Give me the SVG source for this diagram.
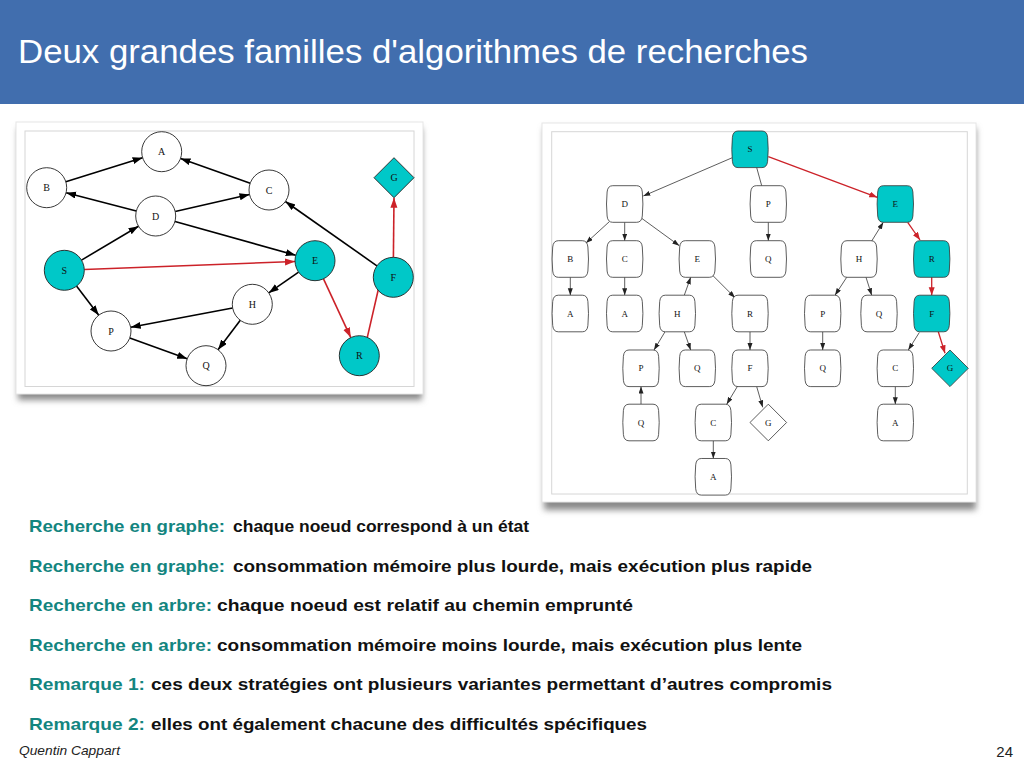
<svg xmlns="http://www.w3.org/2000/svg" width="1024" height="768" viewBox="0 0 1024 768">
  <style>
    .title { font-family: "Liberation Sans", "DejaVu Sans", sans-serif; font-size: 34px; fill: #ffffff; }
    .gnode { fill: #ffffff; stroke: #222222; stroke-width: 0.9; }
    .gnode.hit, .tnode.hit { fill: #00c8c8; }
    .tnode { fill: #ffffff; stroke: #333333; stroke-width: 0.8; }
    .glabel { font-family: "Liberation Serif", "DejaVu Serif", serif; font-size: 10px; fill: #111111; text-anchor: middle; dominant-baseline: central; }
    .tlabel { font-family: "Liberation Serif", "DejaVu Serif", serif; font-size: 9px; fill: #111111; text-anchor: middle; dominant-baseline: central; }
    .gedge { stroke: #000000; stroke-width: 1.6; fill: none; }
    .gedge.red { stroke: #cc2229; }
    .tedge { stroke: #333333; stroke-width: 0.8; fill: none; }
    .tedge.red { stroke: #cc2229; stroke-width: 1.3; }
    .key { font-family: "Liberation Sans", "DejaVu Sans", sans-serif; font-size: 17px; font-weight: bold; fill: #13857f; }
    .body { font-family: "Liberation Sans", "DejaVu Sans", sans-serif; font-size: 17px; font-weight: bold; fill: #111111; }
    .foot { font-family: "Liberation Sans", "DejaVu Sans", sans-serif; fill: #222222; }
  </style>
  <defs>
    <marker id="ah" markerUnits="userSpaceOnUse" markerWidth="11" markerHeight="8" refX="10" refY="3.5" orient="auto">
      <path d="M0,0 L10,3.5 L0,7 Z" fill="#000000"/>
    </marker>
    <marker id="ahRed" markerUnits="userSpaceOnUse" markerWidth="11" markerHeight="8" refX="10" refY="3.5" orient="auto">
      <path d="M0,0 L10,3.5 L0,7 Z" fill="#cc2229"/>
    </marker>
    <marker id="th" markerUnits="userSpaceOnUse" markerWidth="8" markerHeight="6" refX="7" refY="2.5" orient="auto">
      <path d="M0,0 L7,2.5 L0,5 Z" fill="#222222"/>
    </marker>
    <marker id="thRed" markerUnits="userSpaceOnUse" markerWidth="9" markerHeight="7" refX="8" refY="3" orient="auto">
      <path d="M0,0 L8,3 L0,6 Z" fill="#cc2229"/>
    </marker>
    <!-- barrel-shaped rounded box used by the tree nodes -->
    <path id="box" d="M-12,-18.3 H12 Q17,-18.3 17.6,-12 Q18.8,0 17.6,12 Q17,18.3 12,18.3 H-12 Q-17,18.3 -17.6,12 Q-18.8,0 -17.6,-12 Q-17,-18.3 -12,-18.3 Z"/>
    <path id="diam" d="M0,-18.3 L18.3,0 L0,18.3 L-18.3,0 Z"/>
    <path id="gdiam" d="M0,-20 L20,0 L0,20 L-20,0 Z"/>
    <filter id="shadow" x="-10%" y="-10%" width="120%" height="130%">
      <feGaussianBlur stdDeviation="3"/>
    </filter>
  </defs>

  <!-- header band -->
  <rect x="0" y="0" width="1024" height="104" fill="#416eae"/>
  <text class="title" x="18" y="63" textLength="790" lengthAdjust="spacingAndGlyphs">Deux grandes familles d'algorithmes de recherches</text>

  <!-- left picture frame -->
  <g id="frame-graph">
    <rect x="18" y="128" width="404" height="272" fill="#8a8a8a" filter="url(#shadow)"/>
    <rect x="16" y="122" width="407" height="272" fill="#ffffff" stroke="#e6e6e6" stroke-width="1"/>
    <rect x="25" y="131" width="389" height="255.5" fill="#ffffff" stroke="#d6d6d6" stroke-width="1"/>
  </g>

  <!-- right picture frame -->
  <g id="frame-tree">
    <rect x="544" y="128" width="432" height="382" fill="#8a8a8a" filter="url(#shadow)"/>
    <rect x="542" y="123" width="434" height="379" fill="#ffffff" stroke="#e6e6e6" stroke-width="1"/>
    <rect x="551.7" y="131.7" width="415.6" height="362.3" fill="#ffffff" stroke="#d6d6d6" stroke-width="1"/>
  </g>

  <!-- graph connectors -->
  <g id="graph-edges">
    <line class="gedge" x1="65.8" y1="181.7" x2="142.6" y2="157.7" marker-end="url(#ah)"/>
    <line class="gedge" x1="250.2" y1="183.3" x2="180.5" y2="158.4" marker-end="url(#ah)"/>
    <line class="gedge" x1="136.3" y1="211" x2="66.1" y2="192.7" marker-end="url(#ah)"/>
    <line class="gedge" x1="175.2" y1="211.5" x2="249.5" y2="194.5" marker-end="url(#ah)"/>
    <line class="gedge" x1="175" y1="221.4" x2="295.7" y2="255.3" marker-end="url(#ah)"/>
    <line class="gedge" x1="81.5" y1="260.1" x2="138.5" y2="226.2" marker-end="url(#ah)"/>
    <line class="gedge" x1="76.5" y1="286.1" x2="98.8" y2="315.2" marker-end="url(#ah)"/>
    <line class="gedge red" x1="84.3" y1="269.5" x2="295" y2="261.5" marker-end="url(#ahRed)"/>
    <line class="gedge" x1="298.6" y1="272.1" x2="268.7" y2="292.9" marker-end="url(#ah)"/>
    <line class="gedge red" x1="323.5" y1="278.8" x2="350.8" y2="337.6" marker-end="url(#ahRed)"/>
    <line class="gedge red" x1="367.3" y1="337.4" x2="385.3" y2="259" marker-end="url(#ahRed)"/>
    <line class="gedge red" x1="393.4" y1="257.3" x2="394" y2="197.7" marker-end="url(#ahRed)"/>
    <line class="gedge" x1="376.9" y1="265.8" x2="285.4" y2="201.5" marker-end="url(#ah)"/>
    <line class="gedge" x1="232.6" y1="308" x2="130.7" y2="327.3" marker-end="url(#ah)"/>
    <line class="gedge" x1="240.3" y1="320.3" x2="218" y2="349.7" marker-end="url(#ah)"/>
    <line class="gedge" x1="129.8" y1="337.9" x2="187.2" y2="358.8" marker-end="url(#ah)"/>
  </g>

  <!-- graph nodes -->
  <g id="g-A"><circle class="gnode" cx="161.7" cy="151.7" r="20"/><text class="glabel" x="161.7" y="151.7">A</text></g>
  <g id="g-B"><circle class="gnode" cx="46.7" cy="187.7" r="20"/><text class="glabel" x="46.7" y="187.7">B</text></g>
  <g id="g-C"><circle class="gnode" cx="269" cy="190" r="20"/><text class="glabel" x="269" y="190">C</text></g>
  <g id="g-D"><circle class="gnode" cx="155.7" cy="216" r="20"/><text class="glabel" x="155.7" y="216">D</text></g>
  <g id="g-S"><circle class="gnode hit" cx="64.3" cy="270.3" r="20"/><text class="glabel" x="64.3" y="270.3">S</text></g>
  <g id="g-E"><circle class="gnode hit" cx="315" cy="260.7" r="20"/><text class="glabel" x="315" y="260.7">E</text></g>
  <g id="g-F"><circle class="gnode hit" cx="393.3" cy="277.3" r="20"/><text class="glabel" x="393.3" y="277.3">F</text></g>
  <g id="g-G"><use href="#gdiam" class="gnode hit" x="394" y="177.7"/><text class="glabel" x="394" y="177.7">G</text></g>
  <g id="g-H"><circle class="gnode" cx="252.3" cy="304.3" r="20"/><text class="glabel" x="252.3" y="304.3">H</text></g>
  <g id="g-P"><circle class="gnode" cx="111" cy="331" r="20"/><text class="glabel" x="111" y="331">P</text></g>
  <g id="g-Q"><circle class="gnode" cx="206" cy="365.7" r="20"/><text class="glabel" x="206" y="365.7">Q</text></g>
  <g id="g-R"><circle class="gnode hit" cx="359.3" cy="355.7" r="20"/><text class="glabel" x="359.3" y="355.7">R</text></g>

  <!-- tree connectors -->
  <g id="tree-edges">
    <line class="tedge" x1="732.3" y1="157.7" x2="643.3" y2="196" marker-end="url(#th)"/>
    <line class="tedge" x1="756.7" y1="167.6" x2="761.7" y2="185.7"/>
    <line class="tedge red" x1="768.3" y1="156.7" x2="877.3" y2="197.3" marker-end="url(#thRed)"/>
    <line class="tedge" x1="609.3" y1="221.7" x2="586" y2="243" marker-end="url(#th)"/>
    <line class="tedge" x1="624.7" y1="222.3" x2="624.7" y2="240.7" marker-end="url(#th)"/>
    <line class="tedge" x1="641.7" y1="218.3" x2="679.3" y2="245.7" marker-end="url(#th)"/>
    <line class="tedge" x1="768.3" y1="222.3" x2="768.3" y2="240.7" marker-end="url(#th)"/>
    <line class="tedge" x1="871.7" y1="241" x2="883.3" y2="222.3" marker-end="url(#th)"/>
    <line class="tedge red" x1="907.7" y1="222.3" x2="920" y2="240" marker-end="url(#thRed)"/>
    <line class="tedge" x1="570.3" y1="277.3" x2="570.3" y2="295.2" marker-end="url(#th)"/>
    <line class="tedge" x1="624.7" y1="277.3" x2="624.7" y2="295.2" marker-end="url(#th)"/>
    <line class="tedge" x1="684.3" y1="295.2" x2="690.7" y2="277.3" marker-end="url(#th)"/>
    <line class="tedge" x1="712.3" y1="275" x2="735" y2="297.7" marker-end="url(#th)"/>
    <line class="tedge" x1="846.7" y1="277.3" x2="835" y2="295.2" marker-end="url(#th)"/>
    <line class="tedge" x1="866" y1="277.3" x2="871.7" y2="295.2" marker-end="url(#th)"/>
    <line class="tedge red" x1="931.7" y1="277.3" x2="931.7" y2="295.2" marker-end="url(#thRed)"/>
    <line class="tedge" x1="665" y1="331.8" x2="654" y2="350" marker-end="url(#th)"/>
    <line class="tedge" x1="684.3" y1="331.8" x2="690.7" y2="350" marker-end="url(#th)"/>
    <line class="tedge" x1="750" y1="331.8" x2="750" y2="350" marker-end="url(#th)"/>
    <line class="tedge" x1="822.7" y1="331.8" x2="822.7" y2="350" marker-end="url(#th)"/>
    <line class="tedge" x1="919.3" y1="332.5" x2="908.3" y2="350" marker-end="url(#th)"/>
    <line class="tedge red" x1="938.3" y1="331.8" x2="945" y2="353.3" marker-end="url(#thRed)"/>
    <line class="tedge" x1="641" y1="404.2" x2="641" y2="386.6" marker-end="url(#th)"/>
    <line class="tedge" x1="737.3" y1="386.6" x2="726.7" y2="404.2" marker-end="url(#th)"/>
    <line class="tedge" x1="756.7" y1="386.6" x2="762.7" y2="407.3" marker-end="url(#th)"/>
    <line class="tedge" x1="895.3" y1="386.6" x2="895.3" y2="404.2" marker-end="url(#th)"/>
    <line class="tedge" x1="713.3" y1="440.8" x2="713.3" y2="458.5" marker-end="url(#th)"/>
  </g>

  <!-- tree nodes, row by row -->
  <g id="t-S"><use href="#box" class="tnode hit" x="750" y="149.3"/><text class="tlabel" x="750" y="149.3">S</text></g>

  <g id="t-D"><use href="#box" class="tnode" x="624.7" y="204"/><text class="tlabel" x="624.7" y="204">D</text></g>
  <g id="t-P1"><use href="#box" class="tnode" x="768.3" y="204"/><text class="tlabel" x="768.3" y="204">P</text></g>
  <g id="t-E1"><use href="#box" class="tnode hit" x="895.3" y="204"/><text class="tlabel" x="895.3" y="204">E</text></g>

  <g id="t-B"><use href="#box" class="tnode" x="570.3" y="259"/><text class="tlabel" x="570.3" y="259">B</text></g>
  <g id="t-C1"><use href="#box" class="tnode" x="624.7" y="259"/><text class="tlabel" x="624.7" y="259">C</text></g>
  <g id="t-E2"><use href="#box" class="tnode" x="697.3" y="259"/><text class="tlabel" x="697.3" y="259">E</text></g>
  <g id="t-Q1"><use href="#box" class="tnode" x="768.3" y="259"/><text class="tlabel" x="768.3" y="259">Q</text></g>
  <g id="t-H1"><use href="#box" class="tnode" x="859" y="259"/><text class="tlabel" x="859" y="259">H</text></g>
  <g id="t-R1"><use href="#box" class="tnode hit" x="931.7" y="259"/><text class="tlabel" x="931.7" y="259">R</text></g>

  <g id="t-A1"><use href="#box" class="tnode" x="570.3" y="313.5"/><text class="tlabel" x="570.3" y="313.5">A</text></g>
  <g id="t-A2"><use href="#box" class="tnode" x="624.7" y="313.5"/><text class="tlabel" x="624.7" y="313.5">A</text></g>
  <g id="t-H2"><use href="#box" class="tnode" x="677.3" y="313.5"/><text class="tlabel" x="677.3" y="313.5">H</text></g>
  <g id="t-R2"><use href="#box" class="tnode" x="750" y="313.5"/><text class="tlabel" x="750" y="313.5">R</text></g>
  <g id="t-P2"><use href="#box" class="tnode" x="822.7" y="313.5"/><text class="tlabel" x="822.7" y="313.5">P</text></g>
  <g id="t-Q2"><use href="#box" class="tnode" x="879" y="313.5"/><text class="tlabel" x="879" y="313.5">Q</text></g>
  <g id="t-F1"><use href="#box" class="tnode hit" x="931.7" y="313.5"/><text class="tlabel" x="931.7" y="313.5">F</text></g>

  <g id="t-P3"><use href="#box" class="tnode" x="641" y="368.3"/><text class="tlabel" x="641" y="368.3">P</text></g>
  <g id="t-Q3"><use href="#box" class="tnode" x="697.3" y="368.3"/><text class="tlabel" x="697.3" y="368.3">Q</text></g>
  <g id="t-F2"><use href="#box" class="tnode" x="750" y="368.3"/><text class="tlabel" x="750" y="368.3">F</text></g>
  <g id="t-Q4"><use href="#box" class="tnode" x="822.7" y="368.3"/><text class="tlabel" x="822.7" y="368.3">Q</text></g>
  <g id="t-C2"><use href="#box" class="tnode" x="895.3" y="368.3"/><text class="tlabel" x="895.3" y="368.3">C</text></g>
  <g id="t-G1"><use href="#diam" class="tnode hit" x="950" y="368.3"/><text class="tlabel" x="950" y="368.3">G</text></g>

  <g id="t-Q5"><use href="#box" class="tnode" x="641" y="422.5"/><text class="tlabel" x="641" y="422.5">Q</text></g>
  <g id="t-C3"><use href="#box" class="tnode" x="713.3" y="422.5"/><text class="tlabel" x="713.3" y="422.5">C</text></g>
  <g id="t-G2"><use href="#diam" class="tnode" x="768.3" y="422.5"/><text class="tlabel" x="768.3" y="422.5">G</text></g>
  <g id="t-A3"><use href="#box" class="tnode" x="895.3" y="422.5"/><text class="tlabel" x="895.3" y="422.5">A</text></g>

  <g id="t-A4"><use href="#box" class="tnode" x="713.3" y="476.8"/><text class="tlabel" x="713.3" y="476.8">A</text></g>

  <!-- bullet lines -->
  <g id="notes">
    <text class="key" x="29" y="531.5" textLength="196" lengthAdjust="spacingAndGlyphs">Recherche en graphe:</text>
    <text class="body" x="233" y="531.5" textLength="296" lengthAdjust="spacingAndGlyphs">chaque noeud correspond à un état</text>

    <text class="key" x="29" y="571.5" textLength="196" lengthAdjust="spacingAndGlyphs">Recherche en graphe:</text>
    <text class="body" x="233" y="571.5" textLength="579" lengthAdjust="spacingAndGlyphs">consommation mémoire plus lourde, mais exécution plus rapide</text>

    <text class="key" x="29" y="611" textLength="183" lengthAdjust="spacingAndGlyphs">Recherche en arbre:</text>
    <text class="body" x="217" y="611" textLength="416" lengthAdjust="spacingAndGlyphs">chaque noeud est relatif au chemin emprunté</text>

    <text class="key" x="29" y="650.5" textLength="183" lengthAdjust="spacingAndGlyphs">Recherche en arbre:</text>
    <text class="body" x="217" y="650.5" textLength="585" lengthAdjust="spacingAndGlyphs">consommation mémoire moins lourde, mais exécution plus lente</text>

    <text class="key" x="29" y="690" textLength="116" lengthAdjust="spacingAndGlyphs">Remarque 1:</text>
    <text class="body" x="151" y="690" textLength="681" lengthAdjust="spacingAndGlyphs">ces deux stratégies ont plusieurs variantes permettant d’autres compromis</text>

    <text class="key" x="29" y="729.5" textLength="116" lengthAdjust="spacingAndGlyphs">Remarque 2:</text>
    <text class="body" x="151" y="729.5" textLength="496" lengthAdjust="spacingAndGlyphs">elles ont également chacune des difficultés spécifiques</text>
  </g>

  <!-- footer -->
  <text class="foot" x="19" y="755" font-size="13" font-style="italic" textLength="101" lengthAdjust="spacingAndGlyphs">Quentin Cappart</text>
  <text class="foot" x="1013" y="757" font-size="15" text-anchor="end">24</text>
</svg>
